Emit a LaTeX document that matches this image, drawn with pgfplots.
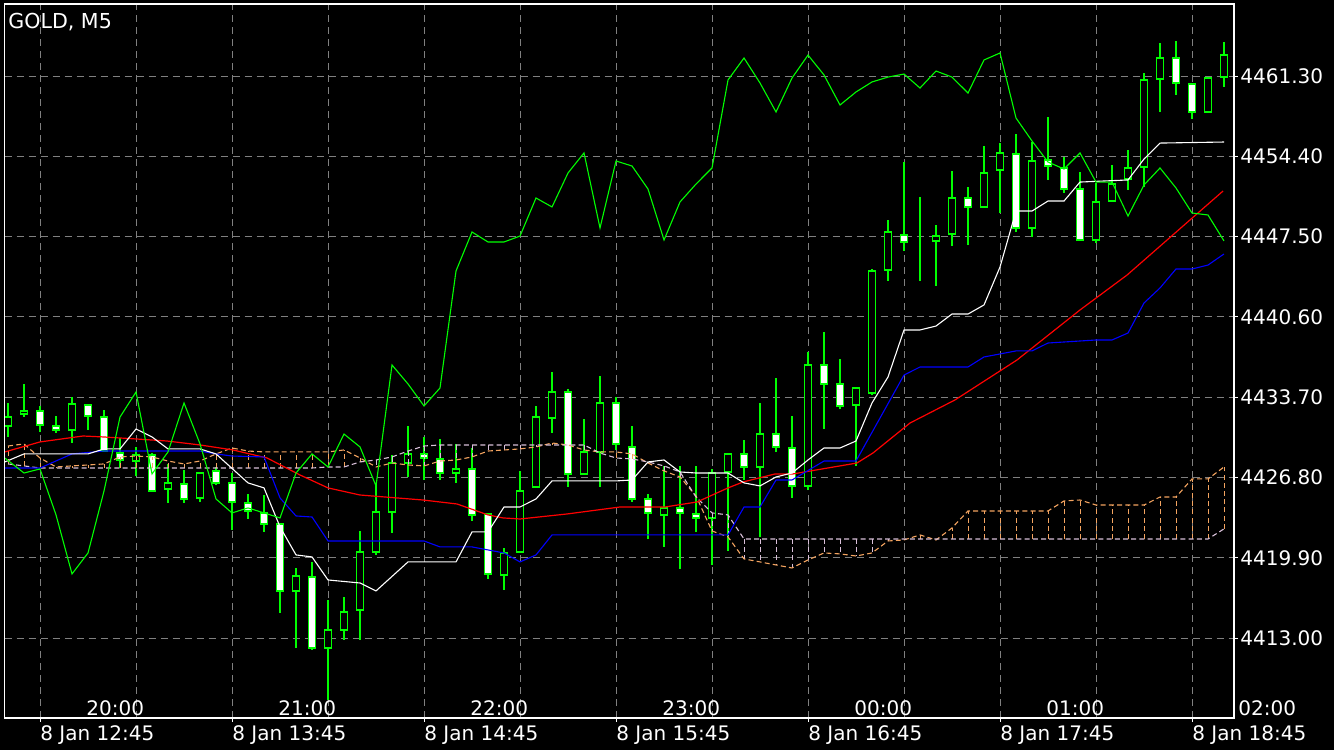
\documentclass[border=0pt]{standalone}
\usepackage{pgfplots}
\pgfplotsset{compat=1.18}
\usepackage{pgfplotstable}
\usepackage{fontspec}
\setmainfont{DejaVu Sans}
\definecolor{sandy}{HTML}{F4A460}
\definecolor{thist}{HTML}{D8BFD8}
\definecolor{gridc}{HTML}{808080}
\definecolor{limeg}{HTML}{00FF00}

\pgfplotstableread{
i o h l c
-2 4431.23 4433.21 4430.29 4432.00
-1 4432.26 4434.84 4432.00 4432.52
0 4432.52 4432.95 4430.72 4431.32
1 4431.23 4432.09 4430.63 4430.89
2 4430.89 4433.72 4429.77 4433.12
3 4433.04 4433.04 4430.89 4432.09
4 4432.00 4432.61 4429.00 4429.08
5 4428.91 4430.20 4427.62 4428.31
6 4428.22 4429.43 4426.94 4428.74
7 4428.74 4428.91 4425.65 4425.65
8 4425.82 4427.97 4424.62 4426.34
9 4426.25 4427.45 4424.62 4424.96
10 4425.05 4427.28 4424.70 4427.19
11 4427.37 4427.71 4426.16 4426.34
12 4426.34 4427.19 4422.30 4424.70
13 4424.62 4425.39 4423.24 4423.93
14 4423.76 4425.30 4422.13 4422.81
15 4422.81 4422.81 4415.17 4417.06
16 4417.06 4419.03 4412.16 4418.35
17 4418.26 4419.55 4411.99 4412.16
18 4412.16 4416.28 4407.69 4413.71
19 4413.71 4416.54 4412.85 4415.25
20 4415.42 4422.21 4412.85 4420.41
21 4420.41 4426.34 4420.15 4423.84
22 4423.84 4428.74 4422.04 4428.05
23 4428.05 4431.23 4426.85 4428.83
24 4428.83 4430.29 4426.59 4428.48
25 4428.40 4430.11 4426.59 4427.19
26 4427.19 4429.69 4426.34 4427.54
27 4427.54 4429.34 4423.07 4423.59
28 4423.67 4423.67 4418.09 4418.52
29 4418.43 4420.75 4417.14 4420.32
30 4420.41 4427.37 4420.41 4425.65
31 4425.99 4432.95 4425.99 4432.00
32 4431.92 4435.87 4430.63 4434.15
33 4434.15 4434.41 4425.99 4427.11
34 4427.11 4431.83 4427.11 4429.00
35 4429.00 4435.53 4425.99 4433.21
36 4433.21 4433.72 4429.17 4429.69
37 4429.43 4431.23 4424.70 4424.96
38 4424.96 4425.39 4421.52 4423.76
39 4423.59 4427.80 4420.84 4424.19
40 4424.19 4427.80 4418.95 4423.76
41 4423.67 4427.80 4422.13 4423.33
42 4423.33 4427.54 4419.29 4427.19
43 4427.28 4428.91 4420.49 4428.83
44 4428.83 4430.03 4426.59 4427.71
45 4427.71 4433.21 4421.70 4430.54
46 4430.54 4435.36 4429.00 4429.43
47 4429.34 4432.09 4425.05 4426.08
48 4426.08 4437.59 4425.73 4436.47
49 4436.47 4439.31 4430.97 4434.84
50 4434.84 4436.99 4432.69 4432.95
51 4433.04 4434.50 4427.80 4434.50
52 4434.07 4444.72 4433.90 4444.55
53 4444.63 4448.93 4443.69 4447.90
54 4447.64 4453.91 4446.27 4447.04
55 4447.04 4450.91 4443.69 4447.04
56 4447.13 4448.50 4443.26 4447.55
57 4447.73 4453.14 4446.70 4450.82
58 4450.82 4451.76 4446.78 4450.05
59 4450.05 4455.29 4450.05 4452.97
60 4453.23 4455.54 4449.53 4454.69
61 4454.60 4456.32 4447.90 4448.24
62 4448.24 4455.63 4447.47 4454.00
63 4454.08 4457.78 4452.37 4453.57
64 4453.40 4454.34 4451.25 4451.59
65 4451.59 4453.05 4447.21 4447.21
66 4447.21 4452.11 4446.95 4450.48
67 4450.56 4453.65 4450.56 4452.02
68 4452.45 4454.94 4451.51 4453.40
69 4453.48 4461.56 4451.76 4460.96
70 4461.04 4464.14 4458.21 4462.85
71 4462.85 4464.31 4459.67 4460.70
72 4460.61 4460.61 4457.61 4458.21
73 4458.21 4461.13 4458.21 4461.13
74 4461.21 4464.22 4460.36 4463.10
}\candles

\pgfplotstableread{
i A B
-2 4429.51 4427.97
-1 4429.69 4427.80
0 4428.48 4427.62
1 4427.71 4427.62
2 4427.80 4427.62
3 4427.88 4427.62
4 4427.97 4427.62
5 4428.57 4427.62
6 4428.65 4427.62
7 4428.57 4427.62
8 4428.22 4427.62
9 4427.97 4427.62
10 4428.22 4427.62
11 4428.83 4427.62
12 4429.34 4427.62
13 4429.08 4427.62
14 4429.00 4427.62
15 4429.00 4427.62
16 4429.00 4427.62
17 4429.00 4427.62
18 4429.00 4427.71
19 4429.17 4427.71
20 4428.48 4428.14
21 4427.71 4428.31
22 4428.05 4428.57
23 4427.88 4429.08
24 4427.80 4429.51
25 4428.22 4429.60
26 4428.31 4429.60
27 4428.57 4429.60
28 4429.08 4429.60
29 4429.17 4429.60
30 4429.26 4429.60
31 4429.43 4429.60
32 4429.77 4429.60
33 4429.60 4429.60
34 4429.17 4429.60
35 4429.00 4428.91
36 4429.00 4428.48
37 4428.83 4428.40
38 4428.05 4428.14
39 4427.37 4427.80
40 4426.85 4427.28
41 4425.22 4425.13
42 4422.21 4423.76
43 4421.70 4423.59
44 4419.81 4421.52
45 4419.55 4421.52
46 4419.29 4421.52
47 4419.03 4421.52
48 4419.72 4421.52
49 4420.32 4421.52
50 4420.24 4421.52
51 4420.06 4421.52
52 4420.32 4421.52
53 4421.35 4421.52
54 4421.44 4421.52
55 4421.87 4421.52
56 4421.44 4421.52
57 4422.47 4421.52
58 4423.93 4421.52
59 4423.93 4421.52
60 4423.93 4421.52
61 4423.93 4421.52
62 4423.93 4421.52
63 4423.93 4421.52
64 4424.79 4421.52
65 4424.87 4421.52
66 4424.44 4421.52
67 4424.44 4421.52
68 4424.44 4421.52
69 4424.44 4421.52
70 4425.13 4421.52
71 4425.13 4421.52
72 4426.68 4421.52
73 4426.68 4421.52
74 4427.71 4422.39
}\cloud

\pgfplotsset{
  basebox/.style={
    at={(2.25pt,16pt)}, anchor=south west,
    scale only axis, width=614.75pt, height=357pt,
    xmin=-2.22, xmax=74.625, ymin=4406.14, ymax=4467.49,
  },
}
\newcommand{\lab}{\fontsize{10}{12}\selectfont}

\begin{document}
\begin{tikzpicture}
\useasboundingbox (0,0) rectangle (667pt,375pt);
\fill[black] (0,0) rectangle (667pt,375pt);
% axis 1: grid, ticks, wicks
\begin{axis}[basebox,
  axis line style={draw=none},
  xtick={0,12,...,72},
  xticklabels={8 Jan 12:45,8 Jan 13:45,8 Jan 14:45,8 Jan 15:45,8 Jan 16:45,8 Jan 17:45,8 Jan 18:45},
  minor xtick={6,18,30,42,54,66},
  ytick={4413,4419.9,4426.8,4433.7,4440.6,4447.5,4454.4,4461.3},
  yticklabels={4413.00,4419.90,4426.80,4433.70,4440.60,4447.50,4454.40,4461.30},
  xtick pos=bottom, ytick pos=right, yticklabel pos=right,
  xmajorgrids, xminorgrids, ymajorgrids,
  major grid style={gridc, line width=0.5pt, dash pattern=on 3.5pt off 2.5pt},
  minor grid style={gridc, line width=0.5pt, dash pattern=on 3.5pt off 2.5pt},
  tick style={white, line width=0.5pt},
  major tick length=2pt, minor tick length=0pt,
  tick align=outside,
  xticklabel style={anchor=north west, inner sep=0pt, font=\lab, text=white, yshift=-1.5pt},
  yticklabel style={anchor=west, inner sep=0pt, font=\lab, text=white, xshift=1pt},
]
\addplot[limeg, line width=0.9pt, quiver={u=0,v=\thisrow{h}-\thisrow{l}}] table[x=i,y=l]{\candles};
\end{axis}
% axis 2: candle bodies
\begin{axis}[basebox, hide axis, ybar stacked, bar width=0.43]
\addplot[draw=none, fill=none] table[x=i, y expr={min(\thisrow{o},\thisrow{c})}]{\candles};
\addplot[draw=limeg, fill=black, line width=0.9pt] table[x=i, y expr={max(\thisrow{c}-\thisrow{o},0)}]{\candles};
\addplot[draw=limeg, fill=white, line width=0.9pt] table[x=i, y expr={max(\thisrow{o}-\thisrow{c},0)}]{\candles};
\end{axis}
% axis 3: indicators
\begin{axis}[basebox, hide axis, clip mode=individual]
\addplot[sandy, line width=0.5pt, dash pattern=on 2.5pt off 1.6pt, quiver={u=0,v=\thisrow{A}-\thisrow{B}},
  restrict expr to domain={\thisrow{A}-\thisrow{B}}{0.05:100}] table[x=i,y=B]{\cloud};
\addplot[thist, line width=0.5pt, dash pattern=on 2.5pt off 1.6pt, quiver={u=0,v=\thisrow{A}-\thisrow{B}},
  restrict expr to domain={\thisrow{A}-\thisrow{B}}{-100:-0.05}] table[x=i,y=B]{\cloud};
\addplot[sandy, line width=0.55pt, dash pattern=on 2.5pt off 1.6pt] table[x=i,y=A]{\cloud};
\addplot[thist, line width=0.55pt, dash pattern=on 2.5pt off 1.6pt] table[x=i,y=B]{\cloud};
% red
\addplot[red, line width=0.6pt] coordinates {(-2.2,4429.00) (0,4429.86) (2.69,4430.37) (3.94,4430.29) (6.06,4430.11) (7.94,4429.94) (10,4429.60) (12.06,4429.17) (14.19,4428.48) (16.25,4427.02) (18,4425.91) (20,4425.30) (23.94,4424.87) (26.06,4424.53) (28,4423.59) (28.94,4423.33) (30,4423.24) (32.94,4423.67) (36.25,4424.27) (39.06,4424.27) (41.06,4424.70) (43,4425.91) (43.94,4426.42) (45.94,4427.11) (47.06,4427.11) (51.06,4428.05) (52.06,4428.91) (54.38,4431.49) (57.19,4433.47) (61.06,4436.90) (65,4441.20) (67.94,4444.20) (73.94,4451.42)};
% blue
\addplot[blue, line width=0.55pt] coordinates {(-2.2,4427.62) (0,4427.62) (2,4428.83) (4,4429.08) (10,4429.08) (11,4428.83) (12,4428.65) (14,4428.57) (15,4425.05) (16,4423.50) (17,4423.41) (18,4421.35) (24,4421.35) (25,4420.84) (27,4420.84) (29,4420.32) (30,4419.55) (31,4420.15) (32,4421.87) (43,4421.87) (44,4424.27) (45,4424.27) (46,4426.59) (47,4426.59) (49,4428.22) (51,4428.22) (54,4435.61) (55,4436.30) (58,4436.30) (59,4437.16) (61,4437.68) (62,4437.68) (63,4438.36) (66,4438.62) (67,4438.62) (68,4439.22) (69,4441.80) (70,4443.09) (71,4444.72) (72,4444.72) (73,4445.06) (74,4446.01)};
% white
\addplot[white, line width=0.55pt] coordinates {(-2.2,4428.14) (-1,4428.83) (3,4428.83) (4,4429.26) (5,4429.26) (6,4430.97) (7,4430.29) (8,4429.26) (10,4429.26) (11,4428.83) (13,4426.34) (14,4425.91) (15,4422.56) (16,4420.15) (17,4419.98) (18,4418.00) (20,4417.74) (21,4417.06) (23,4419.55) (26,4419.55) (27,4422.13) (28,4422.13) (29,4424.27) (30,4424.27) (31,4424.96) (32,4426.51) (36,4426.51) (37,4426.59) (38,4428.14) (39,4428.31) (40,4427.28) (41,4427.19) (43,4427.19) (44,4426.34) (45,4426.08) (46,4426.85) (47,4427.19) (48,4428.31) (49,4429.34) (50,4429.34) (51,4429.94) (52,4433.21) (53,4435.44) (54,4439.48) (55,4439.48) (56,4439.82) (57,4440.85) (58,4440.85) (59,4441.63) (60,4444.89) (61,4449.70) (62,4449.70) (63,4450.56) (64,4450.56) (65,4452.19) (68,4452.37) (69,4454.17) (70,4455.54) (74,4455.63)};
% green
\addplot[limeg, line width=0.55pt] coordinates {(-2.2,4428.48) (-1,4427.19) (0,4427.54) (1,4423.59) (2,4418.52) (3,4420.32) (4,4425.65) (5,4432.00) (6,4434.15) (7,4427.11) (8,4429.00) (9,4433.21) (10,4429.69) (11,4424.96) (12,4423.76) (13,4424.19) (14,4423.76) (15,4423.33) (16,4427.19) (17,4428.83) (18,4427.71) (19,4430.54) (20,4429.43) (21,4426.08) (22,4436.47) (23,4434.84) (24,4432.95) (25,4434.50) (26,4444.55) (27,4447.90) (28,4447.04) (29,4447.04) (30,4447.55) (31,4450.82) (32,4450.05) (33,4452.97) (34,4454.69) (35,4448.24) (36,4454.00) (37,4453.57) (38,4451.59) (39,4447.21) (40,4450.48) (41,4452.02) (42,4453.40) (43,4460.96) (44,4462.85) (45,4460.70) (46,4458.21) (47,4461.13) (48,4463.10) (49,4461.39) (50,4458.81) (51,4459.93) (52,4460.79) (53,4461.21) (54,4461.47) (55,4460.27) (56,4461.73) (57,4461.21) (58,4459.84) (59,4462.68) (60,4463.28) (61,4457.69) (62,4455.72) (63,4453.91) (64,4453.31) (65,4454.69) (66,4452.19) (67,4452.19) (68,4449.27) (69,4451.94) (70,4453.40) (71,4451.68) (72,4449.53) (73,4449.36) (74,4447.13)};
% frame
\draw[white, line width=0.6pt] (rel axis cs:0,0) rectangle (rel axis cs:1,1);
% labels
\node[anchor=north west, inner sep=0pt, text=white, font=\fontsize{10.3}{12}\selectfont] at ([xshift=1.75pt,yshift=-4.5pt]rel axis cs:0,1) {GOLD, M5};
\node[anchor=base, inner sep=0pt, text=white, font=\lab] at ([yshift=1pt]axis cs:4.7,4406.14) {20:00};
\node[anchor=base, inner sep=0pt, text=white, font=\lab] at ([yshift=1pt]axis cs:16.7,4406.14) {21:00};
\node[anchor=base, inner sep=0pt, text=white, font=\lab] at ([yshift=1pt]axis cs:28.7,4406.14) {22:00};
\node[anchor=base, inner sep=0pt, text=white, font=\lab] at ([yshift=1pt]axis cs:40.7,4406.14) {23:00};
\node[anchor=base, inner sep=0pt, text=white, font=\lab] at ([yshift=1pt]axis cs:52.7,4406.14) {00:00};
\node[anchor=base, inner sep=0pt, text=white, font=\lab] at ([yshift=1pt]axis cs:64.7,4406.14) {01:00};
\node[anchor=base, inner sep=0pt, text=white, font=\lab] at ([yshift=1pt]axis cs:76.7,4406.14) {02:00};
\end{axis}
\end{tikzpicture}
\end{document}
